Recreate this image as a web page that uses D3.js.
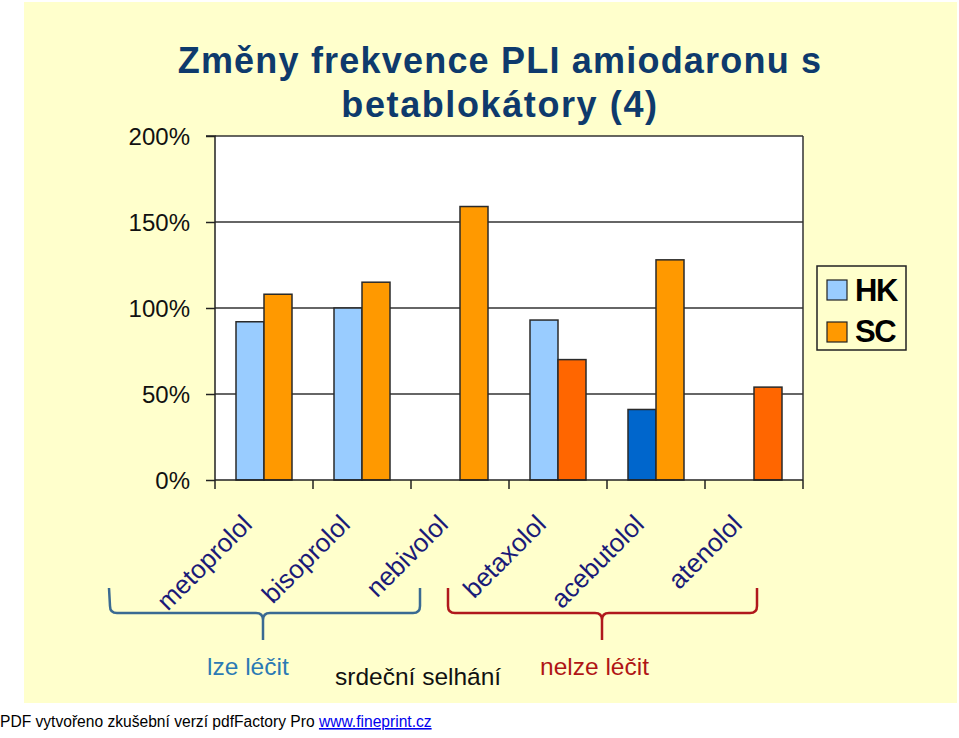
<!DOCTYPE html>
<html>
<head>
<meta charset="utf-8">
<script src="https://cdn.jsdelivr.net/npm/d3@7"></script>
<style>
  html, body { margin: 0; padding: 0; background: #ffffff; }
  svg { display: block; font-family: Arial, "Liberation Sans", sans-serif; }
</style>
</head>
<body>
<svg id="chart" width="959" height="738"></svg>
<script>
// ---- data ----
const categories = ["metoprolol", "bisoprolol", "nebivolol", "betaxolol", "acebutolol", "atenolol"];
const seriesNames = ["HK", "SC"];
const hkValues = [0.92, 1.00, null, 0.93, 0.41, null];
const scValues = [1.08, 1.15, 1.59, 0.70, 1.28, 0.54];
const hkHighlight = [false, false, false, false, true, false];
const scHighlight = [false, false, false, true, false, true];
const yTicks = [0, 0.5, 1.0, 1.5, 2.0];
const titleLines = ["Změny frekvence PLI amiodaronu s", "betablokátory (4)"];

// ---- style ----
const colHK = "#99CCFF", colHKalt = "#0066CC";
const colSC = "#FF9900", colSCalt = "#FF6600";

const svg = d3.select("#chart");

// background
svg.append("rect").attr("x", 24).attr("y", 2).attr("width", 933).attr("height", 701).attr("fill", "#FFFFCC");

const plot = { left: 215, right: 803, top: 136, bottom: 480 };

const x = d3.scaleBand().domain(categories).range([plot.left, plot.right])
  .paddingInner(42 / 98).paddingOuter(21 / 98);
const xs = d3.scaleBand().domain(seriesNames).range([0, x.bandwidth()]);
const y = d3.scaleLinear().domain([0, 2]).range([plot.bottom, plot.top]);

// plot area
svg.append("rect").attr("x", plot.left).attr("y", plot.top)
  .attr("width", plot.right - plot.left).attr("height", plot.bottom - plot.top)
  .attr("fill", "#ffffff");

// gridlines
svg.append("g").selectAll("line").data(yTicks.filter(d => d > 0)).join("line")
  .attr("x1", plot.left).attr("x2", plot.right)
  .attr("y1", d => y(d)).attr("y2", d => y(d))
  .attr("stroke", "#333").attr("stroke-width", 1.5);
// right border
svg.append("line").attr("x1", plot.right).attr("x2", plot.right)
  .attr("y1", plot.top).attr("y2", plot.bottom).attr("stroke", "#333").attr("stroke-width", 1.5);

// bars
const rows = [];
categories.forEach((c, i) => {
  rows.push({ cat: c, s: "HK", v: hkValues[i], color: hkHighlight[i] ? colHKalt : colHK });
  rows.push({ cat: c, s: "SC", v: scValues[i], color: scHighlight[i] ? colSCalt : colSC });
});
svg.append("g").selectAll("rect").data(rows.filter(d => d.v != null)).join("rect")
  .attr("x", d => x(d.cat) + xs(d.s))
  .attr("y", d => y(d.v))
  .attr("width", xs.bandwidth())
  .attr("height", d => y(0) - y(d.v))
  .attr("fill", d => d.color)
  .attr("stroke", "#2a2a2a").attr("stroke-width", 1.5);

// y axis
const yAxis = d3.axisLeft(y).tickValues(yTicks).tickSize(9).tickPadding(16)
  .tickFormat(d => Math.round(d * 100) + "%");
const gy = svg.append("g").attr("transform", `translate(${plot.left},0)`).call(yAxis);
gy.select(".domain").attr("stroke", "#222").attr("stroke-width", 1.5).attr("d", `M-9,${plot.top}H0V${plot.bottom}`);
gy.selectAll(".tick line").attr("stroke", "#222").attr("stroke-width", 1.5);
gy.selectAll(".tick text").attr("font-size", "24px").attr("fill", "#111")
  .attr("font-family", "Arial, 'Liberation Sans', sans-serif").attr("dy", "0.36em");

// x axis line + ticks between categories
const gx = svg.append("g");
gx.append("line").attr("x1", plot.left).attr("x2", plot.right)
  .attr("y1", plot.bottom).attr("y2", plot.bottom).attr("stroke", "#222").attr("stroke-width", 1.5);
const bounds = categories.map(c => x(c) - x.step() * x.paddingOuter() / (1) ).concat([plot.right]);
gx.selectAll("line.tk").data(categories.map((c, i) => plot.left + i * x.step()).concat([plot.right])).join("line")
  .attr("class", "tk")
  .attr("x1", d => d).attr("x2", d => d)
  .attr("y1", plot.bottom).attr("y2", plot.bottom + 9)
  .attr("stroke", "#222").attr("stroke-width", 1.5);

// category labels rotated
gx.selectAll("text.cat").data(categories).join("text")
  .attr("class", "cat")
  .attr("transform", d => `translate(${x(d) + x.bandwidth() / 2 - 10.5},526) rotate(-45)`)
  .attr("text-anchor", "end")
  .attr("font-size", "26px")
  .attr("fill", "#1a1a78")
  .text(d => d);

// title
svg.append("g").selectAll("text").data(titleLines).join("text")
  .attr("x", 500).attr("y", (d, i) => 73 + i * 44)
  .attr("text-anchor", "middle")
  .attr("font-size", "36px").attr("font-weight", "bold")
  .attr("letter-spacing", (d, i) => i === 0 ? "1.2px" : "1.6px")
  .attr("fill", "#0E3A6C")
  .text(d => d);

// legend
const lg = svg.append("g");
lg.append("rect").attr("x", 817).attr("y", 266).attr("width", 89).attr("height", 84)
  .attr("fill", "#FFFFCC").attr("stroke", "#222").attr("stroke-width", 1.5);
const legendItems = [
  { name: seriesNames[0], color: colHK, y: 280, ty: 301 },
  { name: seriesNames[1], color: colSC, y: 322, ty: 342 }
];
lg.selectAll("rect.sw").data(legendItems).join("rect").attr("class", "sw")
  .attr("x", 827).attr("y", d => d.y).attr("width", 20).attr("height", 20)
  .attr("fill", d => d.color).attr("stroke", "#222").attr("stroke-width", 1.2);
lg.selectAll("text").data(legendItems).join("text")
  .attr("x", 855).attr("y", d => d.ty)
  .attr("font-size", "31px").attr("font-weight", "bold").attr("letter-spacing", "-1.5px")
  .attr("fill", "#000")
  .text(d => d.name);

// braces
const braces = [
  { d: "M109,588 L110,606 Q110,613 117,613 L256,613 Q263,613 263,620 L263,640 M263,620 Q263,613 270,613 L413,613 Q420,613 420,606 L420,588", c: "#3A6A92" },
  { d: "M448,588 L448,606 Q448,613 455,613 L595,613 Q602,613 602,620 L602,640 M602,620 Q602,613 609,613 L750,613 Q757,613 757,606 L757,588", c: "#B0181C" }
];
svg.append("g").selectAll("path").data(braces).join("path")
  .attr("d", d => d.d).attr("fill", "none").attr("stroke", d => d.c).attr("stroke-width", 2.5);

// group labels
const notes = [
  { t: "lze léčit", x: 207, y: 675, c: "#2B7AB4" },
  { t: "srdeční selhání", x: 335, y: 685, c: "#111" },
  { t: "nelze léčit", x: 540, y: 675, c: "#B01515" }
];
svg.append("g").selectAll("text").data(notes).join("text")
  .attr("x", d => d.x).attr("y", d => d.y)
  .attr("font-size", "24.5px").attr("fill", d => d.c)
  .text(d => d.t);

// footer
const ft = svg.append("text").attr("x", 0).attr("y", 727).attr("font-size", "15.6px").attr("fill", "#000");
ft.append("tspan").text("PDF vytvořeno zkušební verzí pdfFactory Pro ");
ft.append("tspan").attr("fill", "#0000EE").attr("text-decoration", "underline").text("www.fineprint.cz");
</script>
</body>
</html>
